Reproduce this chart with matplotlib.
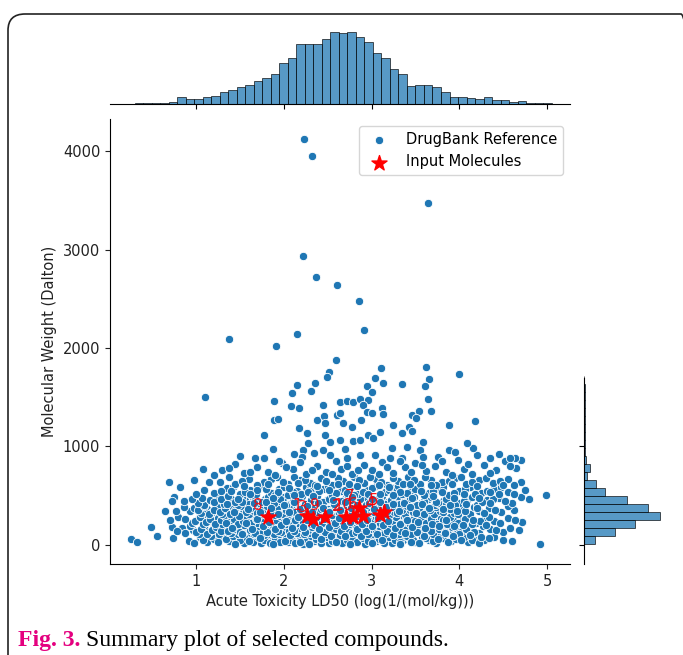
import matplotlib
matplotlib.use("Agg")
import matplotlib.pyplot as plt
from matplotlib.patches import FancyBboxPatch

# ---------------- data ----------------
ref_points = [
    # mw 0-100
    (0.26,61),(0.33,30),(0.56,91),(0.74,71),(0.92,45),(1.05,82),(1.12,30),(1.21,64),(1.30,88),(1.38,42),
    (1.47,70),(1.55,25),(1.61,93),(1.68,55),(1.74,18),(1.80,77),(1.87,40),(1.93,96),(1.99,60),(2.05,28),
    (2.10,85),(2.16,50),(2.22,12),(2.28,74),(2.34,38),(2.40,92),(2.46,58),(2.52,20),(2.58,80),(2.63,45),
    (2.69,68),(2.75,30),(2.81,90),(2.87,52),(2.93,15),(2.99,75),(3.05,42),(3.11,88),(3.17,60),(3.23,25),
    (3.30,80),(3.36,48),(3.43,70),(3.50,32),(3.58,86),(3.66,55),(3.74,22),(3.82,72),(3.91,45),(4.00,90),
    (4.10,35),(4.18,65),(4.28,50),(4.40,80),(4.60,40),(4.92,10),
    (0.98,20),(1.08,55),(1.17,90),(1.25,35),(1.34,62),(1.42,95),(1.50,48),(1.58,72),(1.65,30),(1.71,85),
    (1.77,50),(1.84,22),(1.90,66),(1.96,35),(2.02,88),(2.08,52),(2.13,20),(2.19,70),(2.25,44),(2.31,95),
    (2.37,60),(2.43,25),(2.49,78),(2.55,42),(2.61,95),(2.66,20),(2.72,55),(2.78,82),(2.84,32),(2.90,70),
    (2.96,40),(3.02,95),(3.08,62),(3.14,22),(3.20,78),(3.27,50),(3.33,28),(3.40,90),(3.47,55),(3.54,18),
    (3.62,68),(3.70,40),(3.78,92),(3.87,30),(3.96,62),(4.05,85),(4.14,48),(4.23,20),(4.34,70),(4.50,55),
    # mw 100-200
    (0.49,183),(0.73,183),(0.84,173),(0.88,120),(0.97,150),(1.03,110),(1.09,180),(1.15,135),(1.20,195),(1.26,115),
    (1.32,160),(1.37,130),(1.42,190),(1.48,108),(1.53,150),(1.58,175),(1.63,120),(1.68,195),(1.72,140),(1.77,105),
    (1.82,170),(1.86,130),(1.91,185),(1.95,112),(2.00,155),(2.04,198),(2.08,125),(2.13,165),(2.17,102),(2.21,145),
    (2.26,188),(2.30,118),(2.35,160),(2.39,135),(2.44,192),(2.48,110),(2.53,150),(2.57,178),(2.62,125),(2.66,165),
    (2.71,105),(2.75,140),(2.80,190),(2.84,118),(2.89,158),(2.93,132),(2.98,185),(3.02,110),(3.07,150),(3.12,172),
    (3.16,122),(3.21,195),(3.26,140),(3.31,108),(3.36,168),(3.42,128),(3.48,185),(3.54,145),(3.60,112),(3.67,170),
    (3.74,135),(3.81,190),(3.88,118),(3.95,160),(4.03,140),(4.12,180),(4.22,120),(4.35,165),(4.50,130),(4.68,150),
    (0.78,140),(0.93,190),(1.00,130),(1.06,160),(1.12,112),(1.18,150),(1.23,178),(1.29,138),(1.35,195),(1.40,118),
    (1.45,165),(1.50,135),(1.56,192),(1.61,150),(1.66,110),(1.70,168),(1.75,125),(1.79,185),(1.84,145),(1.89,108),
    (1.93,162),(1.97,128),(2.02,178),(2.06,140),(2.10,195),(2.15,122),(2.19,170),(2.23,108),(2.28,152),(2.32,185),
    (2.37,115),(2.41,170),(2.46,140),(2.51,192),(2.55,125),(2.60,160),(2.64,105),(2.68,188),(2.73,155),(2.78,118),
    (2.82,172),(2.87,135),(2.91,195),(2.96,112),(3.00,165),(3.05,130),(3.09,188),(3.14,108),(3.19,152),(3.24,120),
    (3.29,180),(3.34,140),(3.39,195),(3.45,115),(3.51,165),(3.57,135),(3.63,188),(3.70,110),(3.77,158),(3.84,130),
    (3.92,185),(4.00,115),(4.08,160),(4.17,135),(4.27,190),(4.42,150),(4.58,175),
    # mw 200-300
    (0.70,250),(0.80,280),(0.95,220),(1.02,265),(1.08,210),(1.14,290),(1.19,240),(1.25,275),(1.30,215),(1.35,255),
    (1.40,295),(1.45,230),(1.50,270),(1.55,205),(1.60,250),(1.65,285),(1.70,225),(1.75,262),(1.80,210),(1.84,245),
    (1.89,290),(1.93,230),(1.98,268),(2.02,212),(2.07,252),(2.11,288),(2.15,222),(2.20,260),(2.24,205),(2.28,242),
    (2.33,282),(2.37,218),(2.42,258),(2.46,295),(2.50,232),(2.55,270),(2.59,208),(2.64,248),(2.68,285),(2.72,225),
    (2.77,262),(2.81,205),(2.85,245),(2.90,290),(2.94,228),(2.98,265),(3.03,210),(3.07,250),(3.12,288),(3.16,225),
    (3.21,262),(3.26,208),(3.31,245),(3.36,282),(3.41,230),(3.47,268),(3.53,215),(3.59,255),(3.65,290),(3.72,235),
    (3.79,272),(3.86,218),(3.94,258),(4.02,240),(4.10,280),(4.19,225),(4.28,262),(4.40,245),(4.55,275),(4.72,230),
    (0.88,260),(0.99,240),(1.05,285),(1.11,235),(1.16,268),(1.22,215),(1.28,250),(1.33,290),(1.38,232),(1.43,265),
    (1.48,212),(1.53,248),(1.58,280),(1.63,220),(1.68,260),(1.72,295),(1.77,238),(1.82,275),(1.87,215),(1.91,255),
    (1.96,292),(2.00,235),(2.05,272),(2.09,218),(2.13,258),(2.18,295),(2.22,238),(2.26,275),(2.31,212),(2.35,252),
    (2.40,288),(2.44,228),(2.48,265),(2.53,210),(2.57,248),(2.61,292),(2.66,232),(2.70,270),(2.74,215),(2.79,252),
    (2.83,290),(2.88,228),(2.92,265),(2.96,210),(3.01,248),(3.05,285),(3.10,222),(3.14,262),(3.19,208),(3.23,245),
    (3.28,282),(3.34,225),(3.39,262),(3.44,210),(3.50,248),(3.56,285),(3.62,228),(3.68,265),(3.75,212),(3.82,250),
    (3.90,288),(3.98,225),(4.06,262),(4.15,212),(4.24,245),(4.34,285),(4.47,220),(4.63,255),
    # mw 300-400
    (0.65,345),(0.77,345),(0.93,345),(0.98,380),(1.06,320),(1.12,365),(1.18,335),(1.24,390),(1.30,315),(1.36,355),
    (1.42,385),(1.48,330),(1.54,370),(1.60,310),(1.66,350),(1.72,392),(1.78,325),(1.84,362),(1.90,305),(1.95,345),
    (2.00,382),(2.05,318),(2.10,358),(2.15,395),(2.20,332),(2.25,372),(2.30,312),(2.35,350),(2.40,388),(2.45,325),
    (2.50,365),(2.55,305),(2.60,342),(2.65,380),(2.70,318),(2.75,358),(2.80,395),(2.85,330),(2.90,370),(2.95,310),
    (3.00,348),(3.05,385),(3.10,322),(3.15,362),(3.20,305),(3.26,340),(3.32,378),(3.38,318),(3.44,355),(3.50,392),
    (3.57,330),(3.64,368),(3.71,312),(3.78,350),(3.86,385),(3.94,325),(4.03,362),(4.12,315),(4.22,350),(4.34,380),
    (4.48,330),(4.62,360),
    (0.86,390),(1.02,355),(1.09,392),(1.15,312),(1.21,355),(1.27,330),(1.33,372),(1.39,318),(1.45,352),(1.51,392),
    (1.57,338),(1.63,375),(1.69,320),(1.75,360),(1.81,395),(1.87,335),(1.92,372),(1.98,318),(2.03,355),(2.08,392),
    (2.13,335),(2.18,375),(2.23,315),(2.28,352),(2.33,390),(2.38,330),(2.43,368),(2.48,310),(2.53,348),(2.58,385),
    (2.63,325),(2.68,362),(2.73,398),(2.78,338),(2.83,375),(2.88,315),(2.93,352),(2.98,390),(3.03,330),(3.08,368),
    (3.13,308),(3.18,345),(3.23,385),(3.29,322),(3.35,360),(3.41,395),(3.47,335),(3.54,372),(3.60,315),(3.67,352),
    (3.74,390),(3.82,330),(3.90,365),(3.98,312),(4.07,345),(4.17,385),(4.28,322),(4.41,358),(4.55,395),
    # mw 400-500
    (0.75,487),(0.73,447),(0.86,447),(1.09,406),(1.24,487),(1.02,430),(1.16,460),(1.32,420),(1.40,470),(1.48,410),
    (1.56,455),(1.64,495),(1.71,425),(1.79,465),(1.86,405),(1.93,445),(2.00,488),(2.07,420),(2.14,460),(2.21,498),
    (2.28,430),(2.35,470),(2.42,410),(2.49,452),(2.56,492),(2.63,425),(2.70,465),(2.77,405),(2.84,445),(2.91,485),
    (2.98,418),(3.05,458),(3.12,498),(3.19,432),(3.26,472),(3.33,412),(3.40,452),(3.48,490),(3.56,425),(3.64,465),
    (3.72,408),(3.81,448),(3.90,488),(4.00,425),(4.10,465),(4.20,410),(4.32,455),(4.45,480),(4.60,430),(4.80,470),
    (0.95,470),(1.07,480),(1.21,440),(1.28,465),(1.36,498),(1.44,438),(1.52,480),(1.60,420),(1.67,462),(1.75,440),
    (1.82,492),(1.89,428),(1.96,470),(2.03,408),(2.10,448),(2.17,485),(2.24,418),(2.31,458),(2.38,495),(2.45,432),
    (2.52,472),(2.59,412),(2.66,450),(2.73,490),(2.80,428),(2.87,468),(2.94,405),(3.01,445),(3.08,482),(3.15,418),
    (3.22,455),(3.30,495),(3.37,432),(3.44,472),(3.52,410),(3.60,448),(3.68,488),(3.76,428),(3.85,468),(3.95,405),
    (4.05,442),(4.15,488),(4.26,432),(4.38,470),(4.52,445),(4.70,490),
    # mw 500-600
    (0.82,589),(1.09,558),(1.20,530),(1.35,575),(1.50,515),(1.62,560),(1.75,595),(1.85,530),(1.95,570),(2.05,510),
    (2.15,550),(2.25,590),(2.35,525),(2.45,565),(2.55,505),(2.65,545),(2.75,585),(2.85,520),(2.95,560),(3.05,598),
    (3.15,535),(3.25,575),(3.35,515),(3.45,555),(3.55,592),(3.65,530),(3.75,570),(3.88,510),(4.00,550),(4.12,590),
    (4.25,525),(4.40,565),(4.55,540),(4.99,508),
    (1.00,520),(1.28,552),(1.42,590),(1.56,540),(1.68,520),(1.80,565),(1.90,505),(2.00,590),(2.10,535),(2.20,515),
    (2.30,568),(2.40,545),(2.50,595),(2.60,525),(2.70,562),(2.80,505),(2.90,540),(3.00,575),(3.10,518),(3.20,555),
    (3.30,595),(3.40,530),(3.50,568),(3.60,508),(3.70,545),(3.82,585),(3.94,525),(4.06,565),(4.18,515),(4.32,550),
    (4.48,590),(4.62,520),(4.75,560),
    # mw 600-700
    (0.69,640),(1.15,640),(1.27,640),(1.45,620),(1.60,670),(1.78,635),(1.92,690),(2.05,615),(2.18,660),(2.30,630),
    (2.42,685),(2.55,610),(2.68,650),(2.80,695),(2.92,625),(3.05,665),(3.18,605),(3.30,645),(3.42,690),(3.55,620),
    (3.68,660),(3.80,635),(3.95,680),(4.08,615),(4.22,655),(4.38,625),(4.55,670),(4.70,640),
    (0.98,660),(1.38,690),(1.52,650),(1.70,610),(1.85,665),(1.99,640),(2.12,690),(2.24,655),(2.36,610),(2.48,645),
    (2.62,685),(2.74,620),(2.86,660),(2.98,695),(3.11,640),(3.24,680),(3.36,615),(3.48,655),(3.61,690),(3.74,610),
    (3.88,650),(4.02,690),(4.15,640),(4.30,680),(4.46,650),(4.62,610),
    # extra core points, mw 0-650
    (1.36,140),(1.44,15),(1.52,110),(1.60,45),(1.67,125),(1.73,70),(1.81,132),(1.88,10),(1.94,145),(2.01,40),
    (2.07,100),(2.12,140),(2.18,35),(2.24,128),(2.29,15),(2.36,100),(2.42,58),(2.47,130),(2.54,88),(2.59,35),
    (2.65,140),(2.70,92),(2.76,10),(2.82,128),(2.88,95),(2.94,145),(3.00,22),(3.06,115),(3.12,50),(3.18,140),
    (3.25,100),(3.32,10),(3.38,118),(3.45,32),(3.52,128),(3.60,88),(3.68,142),(3.76,60),(3.84,118),(3.93,92),
    (4.02,50),(4.12,100),(4.25,80),
    (1.34,225),(1.41,170),(1.49,290),(1.57,225),(1.64,160),(1.70,260),(1.76,188),(1.83,232),(1.90,165),(1.97,205),
    (2.03,245),(2.09,175),(2.16,282),(2.22,185),(2.27,258),(2.34,200),(2.40,160),(2.46,262),(2.52,180),(2.58,228),
    (2.63,275),(2.69,195),(2.76,238),(2.83,162),(2.89,212),(2.95,258),(3.01,188),(3.07,275),(3.13,198),(3.19,240),
    (3.27,172),(3.33,210),(3.40,255),(3.46,180),(3.53,232),(3.61,170),(3.69,212),(3.77,195),(3.85,258),(3.94,190),
    (4.04,200),(4.16,250),(4.30,200),
    (1.35,420),(1.43,338),(1.52,440),(1.59,362),(1.66,425),(1.73,340),(1.80,432),(1.86,378),(1.93,318),(2.00,410),
    (2.06,340),(2.12,435),(2.19,368),(2.26,400),(2.32,335),(2.39,425),(2.45,380),(2.51,332),(2.57,415),(2.64,355),
    (2.70,440),(2.77,372),(2.84,410),(2.90,335),(2.97,425),(3.03,365),(3.10,440),(3.17,385),(3.24,420),(3.31,345),
    (3.37,430),(3.44,388),(3.51,325),(3.58,420),(3.66,378),(3.73,435),(3.81,365),(3.89,410),(3.97,350),(4.08,420),
    (4.20,375),(4.35,430),
    (1.40,545),(1.55,600),(1.70,555),(1.82,615),(1.94,535),(2.06,580),(2.16,625),(2.28,540),(2.38,600),(2.52,560),
    (2.62,615),(2.72,530),(2.84,595),(2.96,520),(3.08,610),(3.20,585),(3.32,540),(3.44,620),(3.56,550),(3.68,605),
    (3.80,540),(3.92,615),(4.05,520),(4.20,600),(4.35,540),(4.50,610),(1.48,470),(1.62,520),(1.88,480),(2.12,510),
    (2.33,495),(2.56,460),(2.78,488),(3.00,470),(3.24,505),(3.46,480),(3.70,500),(3.94,478),(4.22,480),(4.45,515),
    # mw 700-1000
    (1.08,772),(1.30,760),(1.45,820),(1.55,730),(1.70,790),(1.82,745),(1.98,830),(2.10,770),(2.25,720),(2.38,805),
    (2.48,745),(2.60,850),(2.65,770),(2.78,720),(2.92,810),(3.00,760),(3.12,840),(3.25,730),(3.38,790),(3.50,830),
    (3.62,750),(3.72,800),(3.85,740),(3.98,860),(4.05,770),(4.15,720),(4.28,810),(4.42,760),(4.52,850),(4.65,780),
    (4.70,860),(4.63,880),(4.45,920),(4.20,914),(3.88,960),(1.95,850),(2.12,925),(2.45,960),(3.55,960),(1.50,900),
    (1.67,883),(1.77,883),(1.88,975),(2.22,964),(2.34,934),(2.21,893),(2.53,914),(2.72,883),(2.87,914),(3.04,914),
    (3.21,883),(3.35,883),(3.59,893),(3.76,893),(4.35,883),(4.58,883),(2.70,975),(3.23,985),(3.40,995),(3.95,944),
    (4.16,985),
    (1.20,710),(1.38,780),(1.62,740),(1.90,715),(2.02,790),(2.18,840),(2.32,760),(2.55,720),(2.72,800),(2.85,760),
    (3.08,720),(3.18,790),(3.32,850),(3.45,740),(3.58,810),(3.80,850),(3.92,710),(4.10,820),(4.35,730),(4.58,800),
    # mw > 1000
    (2.23,4122),(2.32,3949),(3.64,3472),(2.22,2934),(2.37,2721),(2.61,2640),(2.15,2142),(1.38,2091),(1.91,2020),
    (2.86,2477),(2.91,2183),(2.60,1878),(2.52,1756),(2.49,1706),(2.15,1624),(2.36,1645),(2.09,1543),(2.31,1563),
    (1.10,1503),(1.89,1462),(2.08,1411),(2.17,1391),(2.45,1421),(1.89,1269),(1.93,1279),(2.38,1269),(2.46,1310),
    (2.47,1239),(2.61,1320),(2.17,1188),(2.26,1137),(1.77,1117),(2.47,1117),(2.53,1046),(2.28,1036),
    (3.11,1797),(3.62,1807),(4.00,1736),(3.04,1695),(3.13,1645),(3.35,1634),(3.66,1685),(3.61,1614),(2.95,1614),
    (3.01,1553),(2.64,1452),(2.72,1462),(2.79,1452),(2.87,1482),(2.96,1472),(2.90,1421),(3.64,1482),(3.12,1391),
    (2.64,1340),(2.95,1350),(3.01,1340),(3.13,1330),(3.46,1320),(3.54,1360),(3.68,1360),(3.51,1289),(2.68,1239),
    (2.78,1198),(2.88,1269),(3.24,1218),(3.43,1198),(3.88,1218),(4.18,1259),(3.10,1147),(3.35,1137),(3.46,1157),
    (2.64,1066),(2.79,1056),(2.87,1066),(2.96,1117),(3.02,1086),(3.59,1046),(4.09,1036),
]
ref_tox = [p[0] for p in ref_points]
ref_mw = [p[1] for p in ref_points]

input_labels = ["1", "2", "3", "4", "5", "6", "7", "8", "9", "10"]
input_tox = [2.26, 2.71, 2.33, 3.10, 3.14, 2.90, 2.86, 1.82, 2.47, 2.79]
input_mw = [290, 280, 265, 305, 335, 295, 380, 287, 285, 284]

top_hist_start = 0.30
top_hist_width = 0.097
top_hist_counts = [2, 1, 2, 2, 3, 9, 7, 7, 9, 11, 16, 20, 23, 26, 32, 36, 42, 57, 63, 83,
                   83, 83, 90, 100, 98, 99, 93, 85, 70, 64, 48, 42, 25, 26, 26, 23, 16, 9, 9, 8,
                   7, 9, 6, 5, 3, 4, 2, 1, 1]

right_hist_start = 10
right_hist_width = 81
right_hist_counts = [48, 138, 225, 338, 285, 190, 95, 52, 15, 25, 10, 6, 5, 6, 4, 5, 4, 3, 3, 3, 2]

x_ticks = [1, 2, 3, 4, 5]
y_ticks = [0, 1000, 2000, 3000, 4000]
right_ticks = [0, 1000]

# ---------------- figure ----------------
W, H = 683, 655
fig = plt.figure(figsize=(W / 100, H / 100), dpi=100)

def fx(px):
    return px / W

def fy(py):
    return 1 - py / H

main_l, main_r, main_t, main_b = 110, 570, 119, 564
ylo, yhi = -193, 4325
ax = fig.add_axes([fx(main_l), fy(main_b), fx(main_r - main_l), (main_b - main_t) / H])
ax_top = fig.add_axes([fx(main_l), fy(104), fx(main_r - main_l), (104 - 28) / H], sharex=ax)
ax_right = fig.add_axes([fx(584), fy(main_b), fx(80), (main_b - main_t) / H])

blue = "#1f77b4"
ax.scatter(ref_tox, ref_mw, s=36, color=blue, edgecolor="white", linewidth=0.6,
           label="DrugBank Reference", zorder=2)
ax.scatter(input_tox, input_mw, s=130, marker="*", color="red", label="Input Molecules", zorder=3)
for lab, xv, yv in zip(input_labels, input_tox, input_mw):
    ax.annotate(lab, (xv, yv), xytext=(-7, 8), textcoords="offset points", ha="center",
                va="center", color="red", alpha=0.9, fontsize=11, zorder=4)

ax.set_xlim(0.02, 5.262)
ax.set_ylim(ylo, yhi)
ax.set_xticks(x_ticks)
ax.set_yticks(y_ticks)
ax.tick_params(labelsize=10.5, colors="#222222")
ax.spines["top"].set_visible(False)
ax.spines["right"].set_visible(False)
ax.set_xlabel("Acute Toxicity LD50 (log(1/(mol/kg)))", fontsize=10.5, color="#222222")
ax.set_ylabel("Molecular Weight (Dalton)", fontsize=10.5, color="#222222")
ax.legend(loc="upper right", fontsize=10.5, frameon=True, borderaxespad=0.5)

# top marginal histogram
top_left = [top_hist_start + i * top_hist_width for i in range(len(top_hist_counts))]
ax_top.bar(top_left, top_hist_counts, width=top_hist_width, align="edge",
           color=blue, alpha=0.75, edgecolor="black", linewidth=0.6)
ax_top.set_ylim(0, max(top_hist_counts) * 1.05)
for s in ["top", "right", "left"]:
    ax_top.spines[s].set_visible(False)
ax_top.tick_params(axis="x", labelbottom=False)
ax_top.tick_params(axis="y", left=False, labelleft=False)

# right marginal histogram
rb = [right_hist_start + i * right_hist_width for i in range(len(right_hist_counts))]
ax_right.barh(rb, right_hist_counts, height=right_hist_width, align="edge",
              color=blue, alpha=0.75, edgecolor="black", linewidth=0.6)
ax_right.set_xlim(0, max(right_hist_counts) * 1.05)
ax_right.set_ylim(ylo, yhi)
ax_right.set_yticks(right_ticks)
ax_right.spines["left"].set_bounds(ylo, 1700)
for s in ["top", "right", "bottom"]:
    ax_right.spines[s].set_visible(False)
ax_right.tick_params(axis="y", labelleft=False)
ax_right.tick_params(axis="x", bottom=False, labelbottom=False)

# frame and caption
frame = FancyBboxPatch((fx(8), fy(700)), fx(690), (700 - 14) / H,
                       boxstyle="round,pad=0,rounding_size=0.025",
                       transform=fig.transFigure, fill=False, edgecolor="#222222",
                       linewidth=1.2, clip_on=False)
fig.patches.append(frame)

fig.text(fx(18), fy(646), "Fig. 3.", fontsize=17, fontweight="bold", color="#e4007f",
         family="Liberation Serif", va="baseline")
fig.text(fx(86), fy(646), "Summary plot of selected compounds.", fontsize=17, color="black",
         family="Liberation Serif", va="baseline")

fig.savefig("out.png", dpi=100)
